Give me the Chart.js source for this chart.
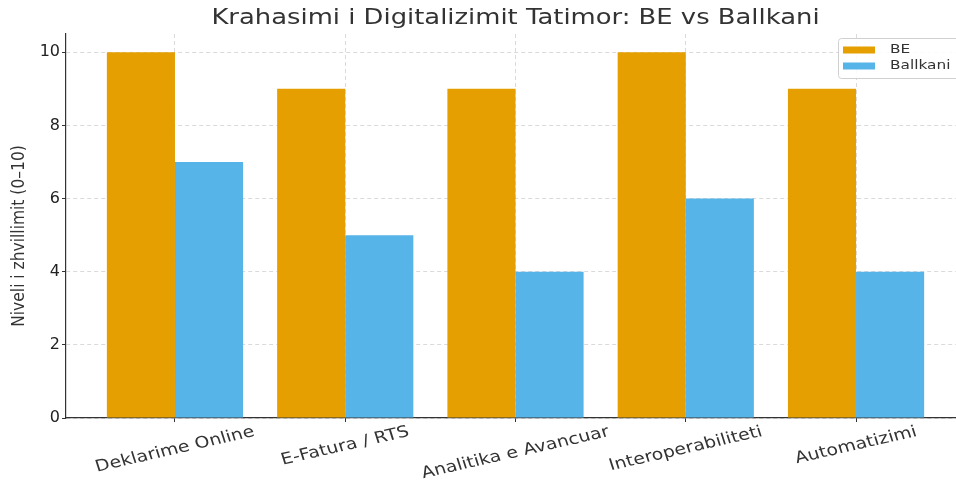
<!DOCTYPE html>
<html>
<head>
<meta charset="utf-8">
<script src="https://cdn.jsdelivr.net/npm/chart.js@4.4.0/dist/chart.umd.min.js"></script>
<style>
  html, body { margin: 0; padding: 0; overflow: hidden; background: #fff; }
</style>
</head>
<body>
<canvas id="chart" width="980" height="481" style="width:980px;height:481px;display:block"></canvas>
<script>
const categories = ['Deklarime Online', 'E-Fatura / RTS', 'Analitika e Avancuar', 'Interoperabiliteti', 'Automatizimi'];
const beValues = [10, 9, 9, 10, 9];
const balkanValues = [7, 5, 4, 6, 4];
const yTicks = [0, 2, 4, 6, 8, 10];
const chartTitle = 'Krahasimi i Digitalizimit Tatimor: BE vs Ballkani';
const yTitle = 'Niveli i zhvillimit (0–10)';

const orange = '#E69F00';
const blue = '#56B4E9';
const stretch = 1.18; // reference text looks a bit wider than tall

// titles, rotated category labels and legend box
const textPlugin = {
    id: 'texts',
    afterDraw(chart) {
        const ctx = chart.ctx;
        const area = chart.chartArea;
        const xs = chart.scales.x;
        ctx.save();
        ctx.fillStyle = '#333';
        ctx.textAlign = 'center';
        ctx.textBaseline = 'middle';

        ctx.save();
        ctx.translate((area.left + area.right) / 2, 19);
        ctx.scale(1.23, 1);
        ctx.font = '21px "DejaVu Sans"';
        ctx.fillText(chartTitle, 0, 0);
        ctx.restore();

        ctx.save();
        ctx.translate(19, 236);
        ctx.scale(stretch, 1);
        ctx.rotate(-Math.PI / 2);
        ctx.font = '15.5px "DejaVu Sans"';
        ctx.fillText(yTitle, 0, 0);
        ctx.restore();

        const ang = 15 * Math.PI / 180;
        ctx.font = '16px "DejaVu Sans"';
        categories.forEach((c, i) => {
            const w = ctx.measureText(c).width;
            const h = 16;
            const bh = w * Math.sin(ang) + h * Math.cos(ang);
            ctx.save();
            ctx.translate(xs.getPixelForValue(i), 424 + bh / 2);
            ctx.scale(stretch, 1);
            ctx.rotate(-ang);
            ctx.fillText(c, 0, 0);
            ctx.restore();
        });

        // legend
        const bx = 838, by = 38, bw = 121, bhh = 40;
        ctx.fillStyle = 'rgba(255,255,255,0.85)';
        ctx.strokeStyle = '#d0d0d0';
        ctx.lineWidth = 1;
        ctx.beginPath();
        ctx.roundRect(bx + 0.5, by + 0.5, bw, bhh, 3);
        ctx.fill();
        ctx.stroke();
        ctx.textAlign = 'left';
        ctx.font = '13px "DejaVu Sans"';
        chart.data.datasets.forEach((ds, i) => {
            const cy = 50 + i * 16;
            ctx.fillStyle = ds.backgroundColor;
            ctx.fillRect(843, cy - 3.5, 32, 7);
            ctx.fillStyle = '#333';
            ctx.save();
            ctx.translate(890, cy);
            ctx.scale(stretch, 1);
            ctx.fillText(ds.label, 0, 0);
            ctx.restore();
        });
        ctx.restore();
    }
};

const gridOpts = {
    offset: false,
    color: 'rgba(170,170,170,0.55)',
    lineWidth: 0.8,
    tickLength: 4,
    tickColor: '#333',
    tickWidth: 1,
    tickBorderDash: []
};

new Chart(document.getElementById('chart'), {
    type: 'bar',
    data: {
        datasets: [{
            label: 'BE',
            data: beValues.map((v, i) => ({ x: i, y: v })),
            backgroundColor: orange,
            borderWidth: 0,
            categoryPercentage: 0.8,
            barPercentage: 1.0
        }, {
            label: 'Ballkani',
            data: balkanValues.map((v, i) => ({ x: i, y: v })),
            backgroundColor: blue,
            borderWidth: 0,
            categoryPercentage: 0.8,
            barPercentage: 1.0
        }]
    },
    options: {
        responsive: false,
        animation: false,
        devicePixelRatio: 1,
        layout: { padding: { top: 34, right: 15, left: 0, bottom: 0 } },
        plugins: { legend: { display: false }, tooltip: { enabled: false }, title: { display: false } },
        scales: {
            x: {
                type: 'linear',
                offset: false,
                min: -0.64,
                max: 4.64,
                afterBuildTicks: (scale) => { scale.ticks = categories.map((c, i) => ({ value: i })); },
                afterFit: (scale) => { scale.height = 63; },
                ticks: { display: false },
                grid: gridOpts,
                border: { display: true, color: '#333', width: 1.2, dash: [4, 3] }
            },
            y: {
                min: 0,
                max: 10.5,
                afterBuildTicks: (scale) => { scale.ticks = yTicks.map(v => ({ value: v })); },
                afterFit: (scale) => { scale.width = 66; },
                ticks: { color: '#222', font: { family: 'DejaVu Sans', size: 16 }, padding: 2 },
                grid: gridOpts,
                border: { display: true, color: '#333', width: 1.2, dash: [4, 3] }
            }
        }
    },
    plugins: [textPlugin]
});
</script>
</body>
</html>
